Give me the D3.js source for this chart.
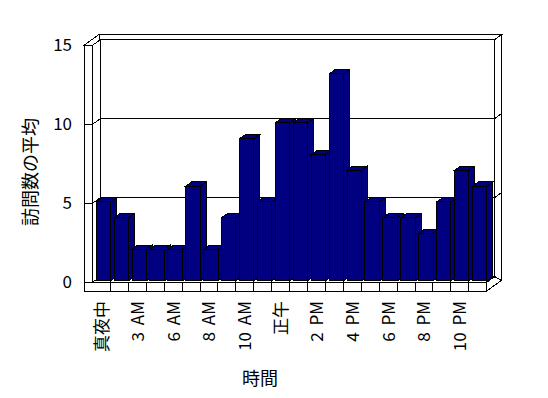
<!DOCTYPE html>
<html>
<head>
<meta charset="utf-8">
<script src="https://cdn.jsdelivr.net/npm/d3@7"></script>
<style>
  body { margin: 0; background: #fff; }
  svg { color: #000; }
  svg text { font-family: "Noto Sans CJK JP", "Noto Sans", sans-serif; fill: #000; -webkit-font-smoothing: antialiased; }
</style>
</head>
<body>
<svg id="canvas" width="548" height="398"></svg>
<script>
// data
const hours = ["真夜中", "1 AM", "3 AM", "4 AM", "6 AM", "7 AM", "8 AM", "9 AM", "10 AM", "11 AM", "正午",
  "1 PM", "2 PM", "3 PM", "4 PM", "5 PM", "6 PM", "7 PM", "8 PM", "9 PM", "10 PM", "11 PM"];
const visits = [5, 4, 2, 2, 2, 6, 2, 4, 9, 5, 10, 10, 8, 13.1, 7, 5, 4, 4, 3, 5, 7, 6];
const yTicks = [0, 5, 10, 15];
const shownHours = hours.filter((d, i) => i % 2 === 0);

const svg = d3.select("svg#canvas");

// front plane box + depth vector (one unit of depth)
const xOuter = 84, xLeft = 92.5, xRight = 486.7, yFloor = 291;
const dx = 7.5, dy = -5.4;

const x = d3.scaleBand().domain(hours).range([xLeft, xRight]).paddingInner(0.2).paddingOuter(0.1);
const y = d3.scaleLinear().domain([0, 15]).range([282.3, 45.3]);
const step = x.step();
const yTop = y(15), yBase = y(0);

const P = (X, Y, z) => [X + z * dx, Y + z * dy];
const poly = (g, pts, fill) =>
  g.append("polygon")
    .attr("points", pts.map((p) => p.join(",")).join(" "))
    .attr("fill", fill)
    .attr("stroke", "#000")
    .attr("stroke-width", 1)
    .attr("shape-rendering", "crispEdges");

// walls and floor
const box = svg.append("g").attr("class", "box");
// back wall (z 1..2)
poly(box, [P(xLeft, yTop, 1), P(xRight, yTop, 1), P(xRight, yBase, 1), P(xLeft, yBase, 1)], "#fff");
poly(box, [P(xOuter, yTop, 2), P(xRight, yTop, 2), P(xRight, yTop, 1), P(xOuter, yTop, 1)], "#fff");
poly(box, [P(xRight, yTop, 1), P(xRight, yTop, 2), P(xRight, yFloor, 2), P(xRight, yFloor, 1)], "#fff");
// left wall
poly(box, [P(xLeft, yTop, 0), P(xLeft, yTop, 1), P(xLeft, yBase, 1), P(xLeft, yBase, 0)], "#fff");
poly(box, [P(xOuter, yTop, 0), P(xOuter, yTop, 2), P(xLeft, yTop, 1), P(xLeft, yTop, 0)], "#fff");
poly(box, [P(xOuter, yTop, 0), P(xLeft, yTop, 0), P(xLeft, yFloor, 0), P(xOuter, yFloor, 0)], "#fff");
// floor
poly(box, [P(xLeft, yBase, 0), P(xRight, yBase, 0), P(xRight, yBase, 1), P(xLeft, yBase, 1)], "#fff");
poly(box, [P(xRight, yBase, 0), P(xRight, yBase, 1), P(xRight, yFloor, 2), P(xRight, yFloor, 0)], "#fff");
poly(box, [P(xOuter, yBase, 0), P(xRight, yBase, 0), P(xRight, yFloor, 0), P(xOuter, yFloor, 0)], "#fff");

// category separators on the floor front
box.append("g")
  .selectAll("line")
  .data(hours.slice(1))
  .enter()
  .append("line")
  .attr("x1", (d) => x(d) - step * 0.1)
  .attr("x2", (d) => x(d) - step * 0.1)
  .attr("y1", yBase)
  .attr("y2", yFloor)
  .attr("stroke", "#000")
  .attr("shape-rendering", "crispEdges");

// gridlines across the walls
box.append("g")
  .selectAll("polyline")
  .data(yTicks.filter((t) => t > 0 && t < 15))
  .enter()
  .append("polyline")
  .attr("points", (t) =>
    [P(xOuter, y(t), 0), P(xLeft, y(t), 0), P(xLeft, y(t), 1), P(xRight, y(t), 1), P(xRight, y(t), 2)]
      .map((p) => p.join(",")).join(" "))
  .attr("fill", "none")
  .attr("stroke", "#000")
  .attr("shape-rendering", "crispEdges");

// bars, left to right so each front hides the previous side
const z0 = 0.25, z1 = 1.05;
const bars = svg.append("g").attr("class", "bars");
hours.forEach((h, i) => {
  const X0 = x(h), X1 = x(h) + x.bandwidth(), Yv = y(visits[i]);
  const g = bars.append("g");
  poly(g, [P(X0, Yv, z0), P(X1, Yv, z0), P(X1, Yv, z1), P(X0, Yv, z1)], "#000080");
  poly(g, [P(X1, Yv, z0), P(X1, Yv, z1), P(X1, yBase, z1), P(X1, yBase, z0)], "#000080");
  poly(g, [P(X0, Yv, z0), P(X1, Yv, z0), P(X1, yBase, z0), P(X0, yBase, z0)], "#000080");
});

// y axis labels
const yAxis = svg.append("g")
  .attr("transform", `translate(${xOuter},0)`)
  .call(d3.axisLeft(y).tickValues(yTicks).tickSize(0).tickPadding(12));
yAxis.select(".domain").remove();
yAxis.selectAll("text")
  .attr("fill", "#000")
  .style("font-size", "17px")
  .style("font-family", null);

// x axis labels, rotated
const xCenter = d3.scalePoint().domain(hours)
  .range([x(hours[0]) + x.bandwidth() / 2, x(hours[hours.length - 1]) + x.bandwidth() / 2]);
const xAxis = svg.append("g")
  .attr("transform", `translate(0,${yFloor})`)
  .call(d3.axisBottom(xCenter).tickValues(shownHours).tickSize(0).tickPadding(0));
xAxis.select(".domain").remove();
xAxis.selectAll("text")
  .attr("transform", "rotate(-90)")
  .attr("x", -10)
  .attr("y", 0)
  .attr("dy", "0.35em")
  .attr("fill", "#000")
  .style("text-anchor", "end")
  .style("font-size", "17px")
  .style("font-family", null)
  .style("word-spacing", "3px");

// axis titles
svg.append("text")
  .attr("transform", "translate(29,172) rotate(-90)")
  .attr("text-anchor", "middle")
  .attr("dominant-baseline", "central")
  .style("font-size", "18px")
  .text("訪問数の平均");

svg.append("text")
  .attr("x", 260)
  .attr("y", 377)
  .attr("text-anchor", "middle")
  .attr("dominant-baseline", "central")
  .style("font-size", "18px")
  .text("時間");
</script>
</body>
</html>
